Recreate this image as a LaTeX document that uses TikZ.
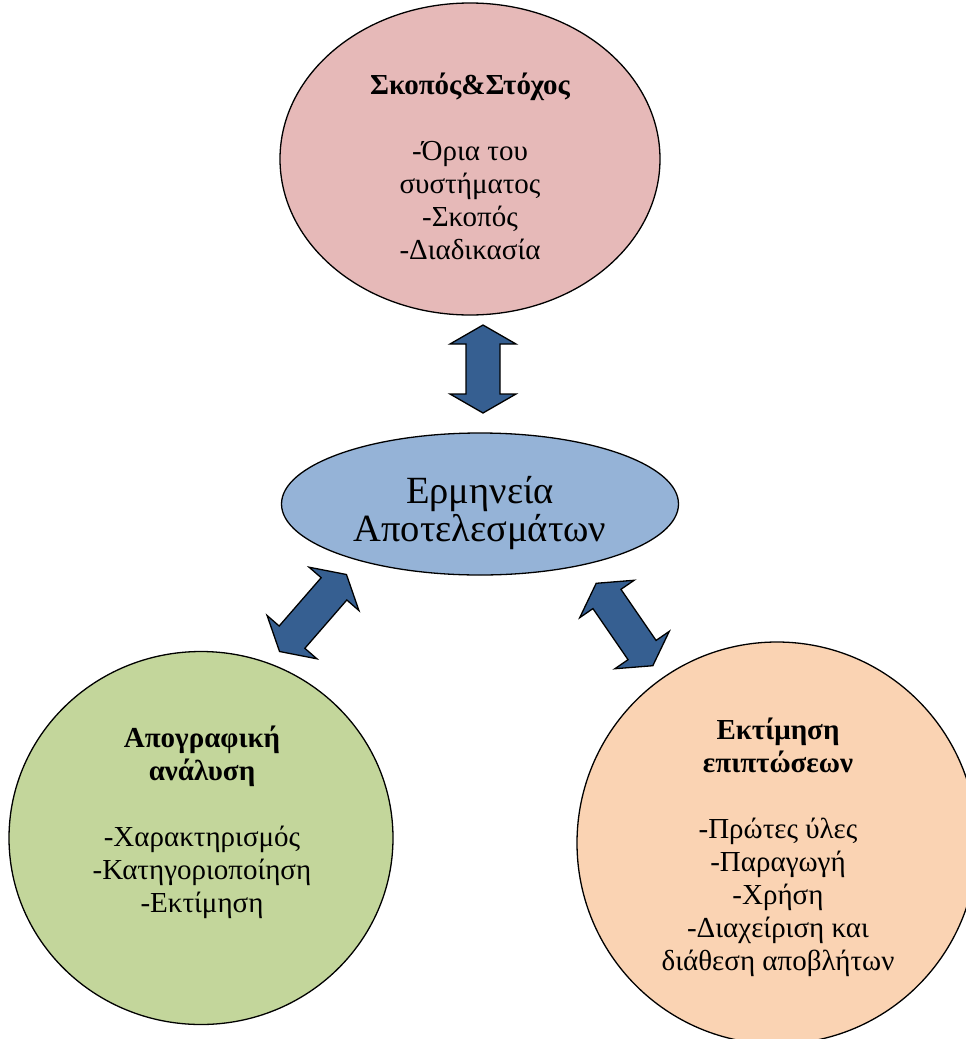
\documentclass[tikz,border=0pt]{standalone}
\usepackage{fontspec}
\setmainfont{Liberation Serif}
\usetikzlibrary{shapes.geometric}
\definecolor{rosefill}{HTML}{E6B9B8}
\definecolor{skyfill}{HTML}{95B3D7}
\definecolor{sagefill}{HTML}{C3D69B}
\definecolor{peachfill}{HTML}{FAD3B3}
\definecolor{arrowblue}{HTML}{365F91}
\newcommand\headfont{\bfseries}
\tikzset{
  blob/.style={draw=black, line width=1.3pt, ellipse, inner sep=0pt},
  body/.style={align=center, inner sep=0pt, font=\fontsize{29}{33}\selectfont},
  blockarrow/.style={draw=black, line width=1.3pt, fill=arrowblue, line join=miter},
  pics/dblarrow/.style={code={
    \draw[blockarrow] ({#1/2},0) -- ({#1/2-19},33) -- ({#1/2-19},17)
      -- ({-#1/2+19},17) -- ({-#1/2+19},33) -- ({-#1/2},0)
      -- ({-#1/2+19},-33) -- ({-#1/2+19},-17) -- ({#1/2-19},-17)
      -- ({#1/2-19},-33) -- cycle;
  }},
}
\begin{document}
\begin{tikzpicture}[x=1pt, y=-1pt]
  \useasboundingbox (0,0) rectangle (966,1039);
  \clip (0,0) rectangle (966,1039);

  % the four areas
  \node[blob, fill=rosefill, minimum width=380pt, minimum height=312pt] (goal) at (470,159) {};
  \node[blob, fill=skyfill, minimum width=397pt, minimum height=142pt] (interp) at (480,504) {};
  \node[blob, fill=sagefill, minimum width=384pt, minimum height=373pt] (inventory) at (201,838) {};
  \node[blob, fill=peachfill, minimum width=400pt, minimum height=402pt] (impact) at (777,843) {};

  % texts
  \node[body] (goaltext) at (470,166)
    {{\headfont Σκοπός\&Στόχος}\\[33pt]-Όρια του\\συστήματος\\-Σκοπός\\-Διαδικασία};
  \node[body, font=\fontsize{38.5}{38}\selectfont] (interptext) at (480,513.5)
    {Ερμηνεία\\Αποτελεσμάτων};
  \node[body] (inventorytext) at (202,822)
    {{\headfont Απογραφική}\\{\headfont ανάλυση}\\[33pt]-Χαρακτηρισμός\\-Κατηγοριοποίηση\\-Εκτίμηση};
  \node[body] (impacttext) at (778,847)
    {{\headfont Εκτίμηση}\\{\headfont επιπτώσεων}\\[33pt]-Πρώτες ύλες\\-Παραγωγή\\-Χρήση\\-Διαχείριση και\\διάθεση αποβλήτων};

  % two-way block arrows between the areas
  \pic[rotate=90] (goalarrow) at (483,369) {dblarrow=88};
  \pic[rotate=49] (inventoryarrow) at (313,613) {dblarrow=102};
  \pic[rotate=124.5] (impactarrow) at (624.5,624.5) {dblarrow=100};
\end{tikzpicture}
\end{document}
